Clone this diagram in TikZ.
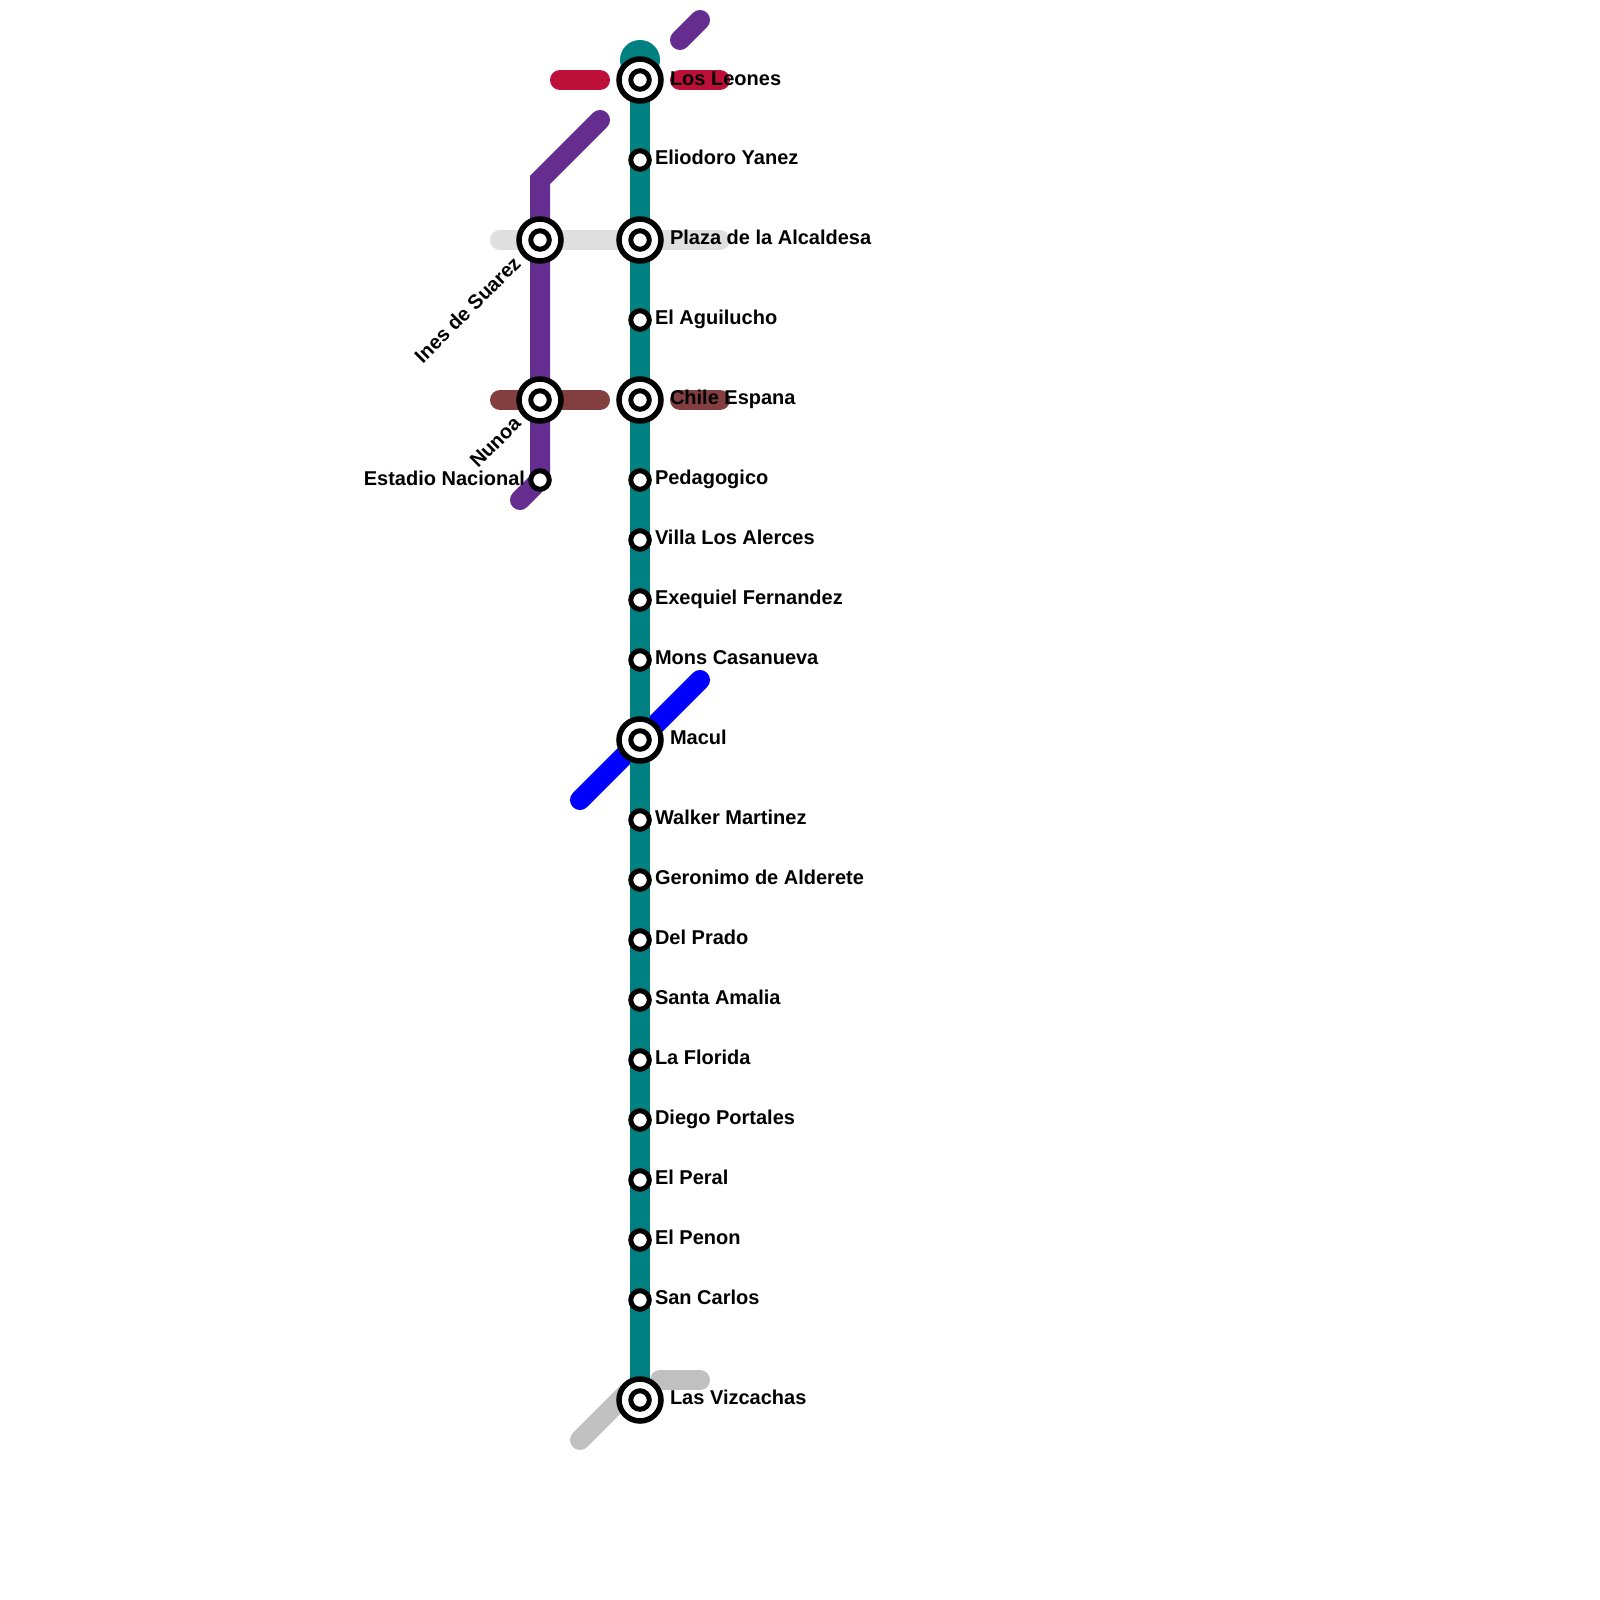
\documentclass[tikz,border=0pt]{standalone}
\usepackage{fontspec}
\setmainfont{Liberation Sans}
\definecolor{teal1}{HTML}{008080}
\definecolor{purple1}{HTML}{662D91}
\definecolor{red1}{HTML}{BD1038}
\definecolor{brown1}{HTML}{833F3F}
\definecolor{grey1}{HTML}{DFDFDF}
\definecolor{grey2}{HTML}{C0C0C0}
\definecolor{blue1}{HTML}{0000FF}
\tikzset{
  route/.style={line width=20pt,line cap=round,line join=miter},
  inter/.style={circle,draw=black,fill=white,line width=5.5pt,minimum size=42pt,inner sep=0pt,outer sep=0pt,
    path picture={\draw[black,line width=5pt,fill=white] (path picture bounding box.center) circle (9.25pt);}},
  halt/.style={circle,draw=black,fill=white,line width=5pt,minimum size=18.5pt,inner sep=0pt,outer sep=0pt},
  lab/.style={font=\fontsize{20}{24}\selectfont\bfseries,text=black,inner sep=0pt,outer sep=0pt},
}
\begin{document}
\begin{tikzpicture}[x=1pt,y=-1pt]
\useasboundingbox (0,0) rectangle (1600,1600);
% free ends of the line stubs
\coordinate (pa) at (600,120);
\coordinate (pb) at (540,180);
\coordinate (pc) at (520,500);
\coordinate (pd) at (680,40);
\coordinate (pe) at (700,20);
\coordinate (ra) at (560,80);
\coordinate (rb) at (600,80);
\coordinate (rc) at (680,80);
\coordinate (rd) at (720,80);
\coordinate (ga) at (500,240);
\coordinate (gb) at (720,240);
\coordinate (ba) at (500,400);
\coordinate (bb) at (600,400);
\coordinate (bc) at (680,400);
\coordinate (bd) at (720,400);
\coordinate (la) at (580,800);
\coordinate (lb) at (700,680);
\coordinate (sa) at (580,1440);
\coordinate (sb) at (625,1395);
\coordinate (sc) at (660,1380);
\coordinate (sd) at (700,1380);
\coordinate (tt) at (640,60);
% stations
\path
 (640,80) coordinate (c1) (640,160) coordinate (c2) (640,240) coordinate (c3) (640,320) coordinate (c4)
 (640,400) coordinate (c5) (640,480) coordinate (c6) (640,540) coordinate (c7) (640,600) coordinate (c8)
 (640,660) coordinate (c9) (640,740) coordinate (c10) (640,820) coordinate (c11) (640,880) coordinate (c12)
 (640,940) coordinate (c13) (640,1000) coordinate (c14) (640,1060) coordinate (c15) (640,1120) coordinate (c16)
 (640,1180) coordinate (c17) (640,1240) coordinate (c18) (640,1300) coordinate (c19) (640,1400) coordinate (c20)
 (540,240) coordinate (p1) (540,400) coordinate (p2) (540,480) coordinate (p3);
% lines
\draw[route,grey1] (ga) -- (gb);
\draw[route,grey2] (sa) -- (sb);
\draw[route,grey2] (sc) -- (sd);
\draw[route,blue1] (la) -- (lb);
\draw[route,red1] (ra) -- (rb);
\draw[route,red1] (rc) -- (rd);
\draw[route,brown1] (ba) -- (bb);
\draw[route,brown1] (bc) -- (bd);
\draw[route,purple1,line cap=round] (pa) -- (pb) -- (p3) -- (pc);
\draw[route,purple1] (pd) -- (pe);
\fill[teal1] (tt) circle (20pt);
\draw[line width=20pt,teal1] (tt) -- (c20);
% station markers
\node[inter] (n1) at (c1) {};
\node[halt] (n2) at (c2) {};
\node[inter] (n3) at (c3) {};
\node[halt] (n4) at (c4) {};
\node[inter] (n5) at (c5) {};
\node[halt] (n6) at (c6) {};
\node[halt] (n7) at (c7) {};
\node[halt] (n8) at (c8) {};
\node[halt] (n9) at (c9) {};
\node[inter] (n10) at (c10) {};
\node[halt] (n11) at (c11) {};
\node[halt] (n12) at (c12) {};
\node[halt] (n13) at (c13) {};
\node[halt] (n14) at (c14) {};
\node[halt] (n15) at (c15) {};
\node[halt] (n16) at (c16) {};
\node[halt] (n17) at (c17) {};
\node[halt] (n18) at (c18) {};
\node[halt] (n19) at (c19) {};
\node[inter] (n20) at (c20) {};
\node[inter] (m1) at (p1) {};
\node[inter] (m2) at (p2) {};
\node[halt] (m3) at (p3) {};
% labels
\node[lab,anchor=base west] (t1) at (670,85.5) {Los Leones};
\node[lab,anchor=base west] (t2) at (655,164.8) {Eliodoro Yanez};
\node[lab,anchor=base west] (t3) at (670,244.8) {Plaza de la Alcaldesa};
\node[lab,anchor=base west] (t4) at (655,324.8) {El Aguilucho};
\node[lab,anchor=base west] (t5) at (670,404.8) {Chile Espana};
\node[lab,anchor=base west] (t6) at (655,484.8) {Pedagogico};
\node[lab,anchor=base west] (t7) at (655,544.8) {Villa Los Alerces};
\node[lab,anchor=base west] (t8) at (655,604.8) {Exequiel Fernandez};
\node[lab,anchor=base west] (t9) at (655,664.8) {Mons Casanueva};
\node[lab,anchor=base west] (t10) at (670,744.8) {Macul};
\node[lab,anchor=base west] (t11) at (655,824.8) {Walker Martinez};
\node[lab,anchor=base west] (t12) at (655,884.8) {Geronimo de Alderete};
\node[lab,anchor=base west] (t13) at (655,944.8) {Del Prado};
\node[lab,anchor=base west] (t14) at (655,1004.8) {Santa Amalia};
\node[lab,anchor=base west] (t15) at (655,1064.8) {La Florida};
\node[lab,anchor=base west] (t16) at (655,1124.8) {Diego Portales};
\node[lab,anchor=base west] (t17) at (655,1184.8) {El Peral};
\node[lab,anchor=base west] (t18) at (655,1244.8) {El Penon};
\node[lab,anchor=base west] (t19) at (655,1304.8) {San Carlos};
\node[lab,anchor=base west] (t20) at (670,1404.8) {Las Vizcachas};
\node[lab,anchor=base east,rotate=45] (u1) at (522,265) {Ines de Suarez};
\node[lab,anchor=base east,rotate=45] (u2) at (522,425) {Nunoa};
\node[lab,anchor=base east] (u3) at (525,485) {Estadio Nacional};
\end{tikzpicture}
\end{document}
